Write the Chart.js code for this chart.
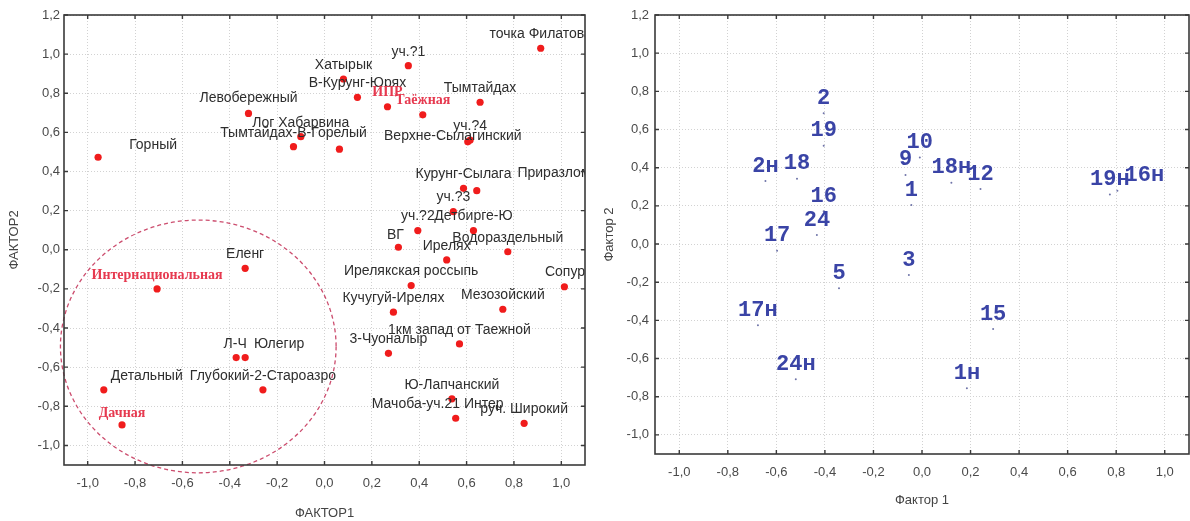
<!DOCTYPE html>
<html>
<head>
<meta charset="utf-8">
<script src="https://cdn.jsdelivr.net/npm/chart.js@4.4.1/dist/chart.umd.min.js"></script>
<style>
    html, body { margin: 0; padding: 0; background: #fff; }
    #wrap { position: relative; width: 1190px; height: 521px; }
    .box { position: absolute; top: 0; width: 595px; height: 521px; }
    #boxLeft { left: 0; }
    #boxRight { left: 595px; }
</style>
</head>
<body>
<div id="wrap">
    <div class="box" id="boxLeft"><canvas id="leftChart" width="595" height="521"></canvas></div>
    <div class="box" id="boxRight"><canvas id="rightChart" width="595" height="521"></canvas></div>
</div>
<script>
/* ===============================
   Data
   =============================== */
const leftNames = [
    "Горный", "Левобережный", "Лог Хабарвина", "Тымтайдах-В-Горелый", "",
    "Хатырык", "В-Курунг-Юрях", "уч.?1", "ИПР", "Таёжная",
    "Тымтайдах", "уч.?4", "Верхне-Сылагинский", "точка Филатова", "Курунг-Сылага",
    "Приразломный", "уч.?3", "уч.?2", "Детбирге-Ю", "ВГ",
    "Ирелях", "Водораздельный", "Ирелякская россыпь", "Сопурский", "Кучугуй-Ирелях",
    "Мезозойский", "1км запад от Таежной", "3-Чуоналыр", "Ю-Лапчанский", "Мачоба-уч.21 Интер",
    "руч. Широкий", "Еленг", "Интернациональная", "Л-Ч", "Юлегир",
    "Глубокий-2-Староазро", "Детальный", "Дачная"
];
const leftFactor1 = [
    -0.956, -0.321, -0.100, -0.131, 0.063,
    0.080, 0.139, 0.354, 0.266, 0.415,
    0.657, 0.615, 0.605, 0.913, 0.587,
    0.643, 0.544, 0.394, 0.629, 0.312,
    0.516, 0.774, 0.366, 1.013, 0.291,
    0.753, 0.570, 0.270, 0.538, 0.554,
    0.843, -0.335, -0.707, -0.373, -0.335,
    -0.260, -0.932, -0.855
];
const leftFactor2 = [
    0.473, 0.697, 0.578, 0.527, 0.514,
    0.873, 0.779, 0.941, 0.731, 0.690,
    0.754, 0.561, 0.552, 1.030, 0.314,
    0.302, 0.195, 0.098, 0.098, 0.013,
    -0.052, -0.010, -0.183, -0.189, -0.319,
    -0.304, -0.481, -0.529, -0.762, -0.861,
    -0.887, -0.095, -0.200, -0.551, -0.551,
    -0.716, -0.716, -0.895
];
const leftRedNames = ["ИПР", "Таёжная", "Интернациональная", "Дачная"];

const rightNames = [
    "2", "19", "2н", "18", "16", "24", "17", "5", "17н", "24н",
    "10", "9", "1", "18н", "12", "19н", "16н", "3", "15", "1н"
];
const rightFactor1 = [
    -0.405, -0.405, -0.645, -0.515, -0.405, -0.433, -0.597, -0.342, -0.676, -0.520,
    -0.009, -0.068, -0.044, 0.121, 0.241, 0.774, 0.805, -0.054, 0.293, 0.185
];
const rightFactor2 = [
    0.685, 0.515, 0.330, 0.342, 0.172, 0.047, -0.035, -0.232, -0.425, -0.708,
    0.454, 0.362, 0.204, 0.321, 0.288, 0.260, 0.279, -0.162, -0.445, -0.756
];

const xTickValues = [-1.0, -0.8, -0.6, -0.4, -0.2, 0.0, 0.2, 0.4, 0.6, 0.8, 1.0];
const yTickValues = [-1.0, -0.8, -0.6, -0.4, -0.2, 0.0, 0.2, 0.4, 0.6, 0.8, 1.0, 1.2];

// dashed cluster outline on the left plot (data units)
const clusterEllipse = { x: -0.533, y: -0.494, rx: 0.582, ry: 0.646 };

/* ===============================
   Helpers / plugins
   =============================== */
const fmt = v => v.toFixed(1).replace(".", ",");

function tickFont() {
    return { family: "Liberation Sans", size: 13 };
}

// frame, inner tick marks, ellipse and point labels
const decorPlugin = {
    id: "decor",
    afterDatasetsDraw(chart, args, opts) {
        const { ctx, chartArea: a } = chart;
        const xs = chart.scales.x, ys = chart.scales.y;

        if (opts.ellipse) {
            const e = opts.ellipse;
            const cx = xs.getPixelForValue(e.x), cy = ys.getPixelForValue(e.y);
            const rx = Math.abs(xs.getPixelForValue(e.x + e.rx) - cx);
            const ry = Math.abs(ys.getPixelForValue(e.y + e.ry) - cy);
            ctx.save();
            ctx.beginPath();
            ctx.setLineDash([4, 3]);
            ctx.strokeStyle = "#cc4d6e";
            ctx.lineWidth = 1.3;
            ctx.ellipse(cx, cy, rx, ry, 0, 0, Math.PI * 2);
            ctx.stroke();
            ctx.restore();
        }

        // labels
        ctx.save();
        ctx.beginPath();
        ctx.rect(a.left, a.top, a.right - a.left, a.bottom - a.top);
        ctx.clip();
        ctx.textAlign = "center";
        ctx.textBaseline = "middle";
        const ds = chart.data.datasets[0];
        chart.getDatasetMeta(0).data.forEach((el, i) => {
            const text = ds.names[i];
            if (!text) return;
            const shift = opts.shift[text] || [0, 0];
            const red = opts.redNames && opts.redNames.includes(text);
            ctx.font = red ? opts.redFont : opts.font;
            ctx.fillStyle = red ? opts.redColor : opts.color;
            ctx.fillText(text, el.x + shift[0], el.y + opts.offsetY + shift[1]);
        });
        ctx.restore();

        // frame
        ctx.save();
        ctx.strokeStyle = "#3a3a3a";
        ctx.lineWidth = 1.6;
        ctx.strokeRect(a.left, a.top, a.right - a.left, a.bottom - a.top);
        ctx.lineWidth = 1.4;
        ctx.beginPath();
        xTickValues.forEach(v => {
            const px = xs.getPixelForValue(v);
            ctx.moveTo(px, a.bottom); ctx.lineTo(px, a.bottom - 4);
            ctx.moveTo(px, a.top); ctx.lineTo(px, a.top + 4);
        });
        yTickValues.forEach(v => {
            const py = ys.getPixelForValue(v);
            ctx.moveTo(a.left, py); ctx.lineTo(a.left + 4, py);
            ctx.moveTo(a.right, py); ctx.lineTo(a.right - 4, py);
        });
        ctx.stroke();
        ctx.restore();
    }
};

function makeOptions(cfg) {
    return {
        responsive: false,
        animation: false,
        layout: { autoPadding: false, padding: { top: 15, right: cfg.rightPad, left: 0, bottom: 0 } },
        scales: {
            x: {
                type: "linear",
                min: -1.1,
                max: 1.1,
                afterBuildTicks: s => { s.ticks = xTickValues.map(v => ({ value: v })); },
                afterFit: s => { s.height = cfg.xHeight; },
                grid: { color: "#d2d2d2", lineWidth: 1, drawTicks: false },
                border: { display: false, dash: [1, 2] },
                ticks: { padding: 11, color: "#4a4a4a", font: tickFont(), callback: v => fmt(v), maxRotation: 0 },
                title: {
                    display: true, text: cfg.xTitle, color: "#444",
                    font: { family: "Liberation Sans", size: 13 },
                    padding: { top: 0, bottom: cfg.xTitlePad }
                }
            },
            y: {
                type: "linear",
                min: -1.1,
                max: 1.2,
                afterBuildTicks: s => { s.ticks = yTickValues.map(v => ({ value: v })); },
                afterFit: s => { s.width = cfg.yWidth; },
                grid: { color: "#d2d2d2", lineWidth: 1, drawTicks: false },
                border: { display: false, dash: [1, 2] },
                ticks: { padding: cfg.yTickPad, color: "#4a4a4a", font: tickFont(), callback: v => fmt(v) },
                title: {
                    display: true, text: cfg.yTitle, color: "#444",
                    font: { family: "Liberation Sans", size: 13 },
                    padding: { top: 7, bottom: 0 }
                }
            }
        },
        plugins: {
            legend: { display: false },
            tooltip: { enabled: false },
            decor: cfg.decor
        }
    };
}

/* ===============================
   Left plot
   =============================== */
new Chart(document.getElementById("leftChart"), {
    type: "scatter",
    data: {
        datasets: [{
            data: leftFactor1.map((x, i) => ({ x: x, y: leftFactor2[i] })),
            names: leftNames,
            pointRadius: 3.6,
            pointBackgroundColor: "#f01c1c",
            pointBorderWidth: 0
        }]
    },
    options: makeOptions({
        rightPad: 10, xHeight: 56, yWidth: 64, yTickPad: 4, xTitlePad: 0,
        xTitle: "ФАКТОР1", yTitle: "ФАКТОР2",
        decor: {
            ellipse: clusterEllipse,
            font: "14px 'Liberation Sans'",
            color: "#2e2e2e",
            redFont: "bold 14px 'Liberation Serif'",
            redColor: "#e6394f",
            redNames: leftRedNames,
            offsetY: -14,
            shift: {
                "Горный": [55, 2],
                "Левобережный": [0, -1],
                "Верхне-Сылагинский": [-15, 8],
                "Приразломный": [90, -4],
                "ВГ": [-3, 2],
                "Сопурский": [15, -1],
                "Мачоба-уч.21 Интер": [-18, 0],
                "Юлегир": [34, 1],
                "Детальный": [43, 0],
                "Л-Ч": [-1, 1],
                "Дачная": [0, 2]
            }
        }
    }),
    plugins: [decorPlugin]
});

/* ===============================
   Right plot
   =============================== */
new Chart(document.getElementById("rightChart"), {
    type: "scatter",
    data: {
        datasets: [{
            data: rightFactor1.map((x, i) => ({ x: x, y: rightFactor2[i] })),
            names: rightNames,
            pointRadius: 1,
            pointBackgroundColor: "#6f74a8",
            pointBorderWidth: 0
        }]
    },
    options: makeOptions({
        rightPad: 1, xHeight: 67, yWidth: 60, yTickPad: 6, xTitlePad: 13,
        xTitle: "Фактор 1", yTitle: "Фактор 2",
        decor: {
            ellipse: null,
            font: "bold 22px 'Liberation Mono'",
            color: "#3a44a6",
            offsetY: -15,
            shift: { "16н": [27, 0] }
        }
    }),
    plugins: [decorPlugin]
});
</script>
</body>
</html>
